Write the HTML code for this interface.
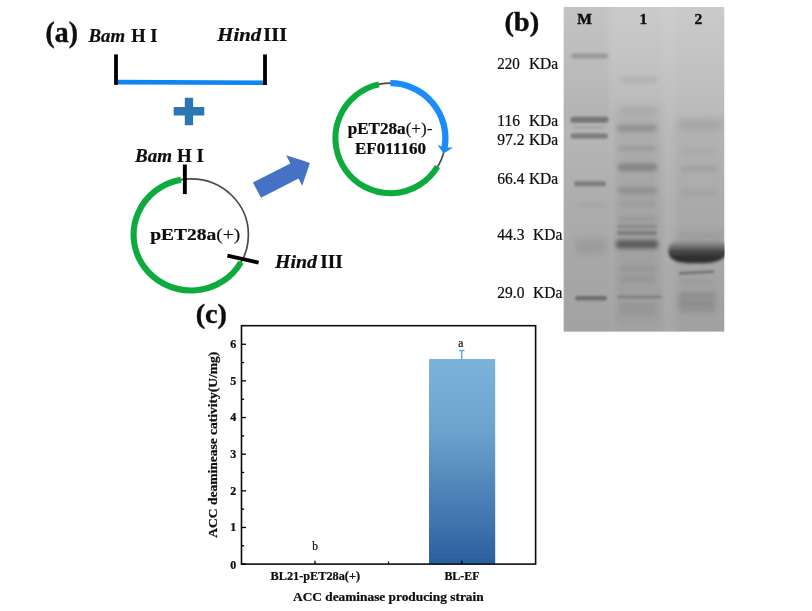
<!DOCTYPE html>
<html><head><meta charset="utf-8">
<style>
html,body{margin:0;padding:0;background:#fff;}
body{width:812px;height:611px;overflow:hidden;font-family:"Liberation Serif",serif;}
svg{position:absolute;left:0;top:0;display:block}
text{font-family:"Liberation Serif",serif;fill:#0c0c0c;stroke:#0c0c0c;stroke-width:.22px}
.b{font-weight:bold}
.bi{font-weight:bold;font-style:italic}
.big{stroke:#0c0c0c;stroke-width:0.4px}
</style></head><body>
<svg width="812" height="611" viewBox="0 0 812 611">
<defs>
<linearGradient id="barg" x1="0" y1="0" x2="0" y2="1">
<stop offset="0" stop-color="#7bb3da"/><stop offset="0.35" stop-color="#6ba3cd"/><stop offset="1" stop-color="#2a5f9f"/>
</linearGradient>
<linearGradient id="gelbg" x1="0" y1="0" x2="0" y2="1">

<stop offset="0" stop-color="#cacaca"/>
<stop offset="0.15" stop-color="#c4c4c4"/>
<stop offset="0.35" stop-color="#b8b8b8"/>
<stop offset="0.6" stop-color="#adadad"/>
<stop offset="1" stop-color="#a2a2a2"/>
</linearGradient>
<filter id="soft" x="-5%" y="-5%" width="110%" height="110%"><feGaussianBlur stdDeviation="0.6"/></filter>

<filter id="bl1" x="-30%" y="-200%" width="160%" height="500%"><feGaussianBlur stdDeviation="1.3"/></filter>
<filter id="bl15" x="-30%" y="-200%" width="160%" height="500%"><feGaussianBlur stdDeviation="1.6"/></filter>
<filter id="bl2" x="-30%" y="-200%" width="160%" height="500%"><feGaussianBlur stdDeviation="1.9"/></filter>
<filter id="bl3" x="-30%" y="-200%" width="160%" height="500%"><feGaussianBlur stdDeviation="3.2"/></filter>
<filter id="bl4" x="-30%" y="-200%" width="160%" height="500%"><feGaussianBlur stdDeviation="5"/></filter>
<clipPath id="gelclip"><rect x="563.4" y="6.8" width="161.1" height="325"/></clipPath>
</defs>
<g filter="url(#soft)">
<g id="pa">
<text class="b big" x="45.6" y="41.5" font-size="29.3" textLength="32.4" lengthAdjust="spacingAndGlyphs">(a)</text>
<text class="bi" x="88.5" y="41.7" font-size="18.5" textLength="36.5" lengthAdjust="spacingAndGlyphs">Bam</text>
<text class="b" x="131.3" y="41.6" font-size="19" textLength="26.3" lengthAdjust="spacingAndGlyphs">H I</text>
<text class="bi" x="217.3" y="41.3" font-size="19" textLength="43.8" lengthAdjust="spacingAndGlyphs">Hind</text>
<text class="b" x="263.3" y="41.3" font-size="18.5" textLength="24" lengthAdjust="spacingAndGlyphs">III</text>
<line x1="116" y1="82.1" x2="265" y2="82.8" stroke="#0d86f2" stroke-width="4.6"/>
<rect x="114.1" y="54.4" width="3.8" height="30.4" fill="#000"/>
<rect x="263.1" y="54.4" width="3.8" height="30.6" fill="#000"/>
<path d="M184.8 97.7H193.1V107.1H204.3V115.5H193.1V125.3H184.8V115.5H173.7V107.1H184.8Z" fill="#2e75b6"/>
<text class="bi" x="135" y="161.6" font-size="18.5" textLength="37" lengthAdjust="spacingAndGlyphs">Bam</text>
<text class="b" x="177" y="161.6" font-size="19" textLength="27" lengthAdjust="spacingAndGlyphs">H I</text>
<ellipse cx="191" cy="234.7" rx="57.4" ry="55.8" fill="none" stroke="#4a4a4a" stroke-width="1.7"/>
<path d="M240.96 262.18A57.4 55.8 0 1 1 181.03 179.75" fill="none" stroke="#0aab3c" stroke-width="6.1"/>
<rect x="182.9" y="164.5" width="3.9" height="29.6" fill="#000"/>
<line x1="227.4" y1="255.6" x2="258.6" y2="262.6" stroke="#000" stroke-width="3.8"/>
<text class="b" x="150.2" y="240.2" font-size="17.5" textLength="90" lengthAdjust="spacingAndGlyphs">pET28a<tspan font-weight="normal" stroke="#111" stroke-width="0.15">(+)</tspan></text>
<text class="bi" x="275" y="267.7" font-size="19" textLength="42" lengthAdjust="spacingAndGlyphs">Hind</text>
<text class="b" x="320.2" y="267.7" font-size="18.5" textLength="22.6" lengthAdjust="spacingAndGlyphs">III</text>
<polygon points="252.9,182.6 290.4,163.5 286.1,155.2 309.9,162.9 302.2,185.8 298.6,178.6 261,197.8" fill="#4472c4"/>
<circle cx="390.4" cy="138.2" r="55" fill="none" stroke="#4a4a4a" stroke-width="1.7"/>
<path d="M437.54 166.53A55 55 0 1 1 378.96 84.40" fill="none" stroke="#0aab3c" stroke-width="6"/>
<path d="M390.40 83.20A55 55 0 0 1 444.65 147.28" fill="none" stroke="#1a8cfa" stroke-width="6.3"/>
<polygon points="437.4,144.7 441.5,146.6 449,147.6 453.2,147.6 443.6,153.6" fill="#1a8cfa"/>
<text class="b" x="347.7" y="133.6" font-size="16.5" textLength="84.7" lengthAdjust="spacingAndGlyphs">pET28a<tspan font-weight="normal" stroke="#111" stroke-width="0.15">(+)-</tspan></text>
<text class="b" x="355" y="153.8" font-size="16.5" textLength="71" lengthAdjust="spacingAndGlyphs">EF011160</text>
</g>
<g id="pb">
<text class="b big" x="504.4" y="31.2" font-size="27.3" textLength="34.8" lengthAdjust="spacingAndGlyphs">(b)</text>
<g font-size="17">
<text x="497.3" y="68.9" textLength="22.6" lengthAdjust="spacingAndGlyphs">220</text><text x="528.9" y="68.9" textLength="29.3" lengthAdjust="spacingAndGlyphs">KDa</text>
<text x="497.3" y="125.7" textLength="22.6" lengthAdjust="spacingAndGlyphs">116</text><text x="528.9" y="125.7" textLength="29.3" lengthAdjust="spacingAndGlyphs">KDa</text>
<text x="497.3" y="145.2" textLength="27.2" lengthAdjust="spacingAndGlyphs">97.2</text><text x="528.9" y="145.2" textLength="29.3" lengthAdjust="spacingAndGlyphs">KDa</text>
<text x="497.3" y="183.5" textLength="27.2" lengthAdjust="spacingAndGlyphs">66.4</text><text x="528.9" y="183.5" textLength="29.3" lengthAdjust="spacingAndGlyphs">KDa</text>
<text x="497.3" y="239.8" textLength="27.2" lengthAdjust="spacingAndGlyphs">44.3</text><text x="533" y="239.8" textLength="29.3" lengthAdjust="spacingAndGlyphs">KDa</text>
<text x="497.3" y="297.5" textLength="27.2" lengthAdjust="spacingAndGlyphs">29.0</text><text x="533" y="297.5" textLength="29.3" lengthAdjust="spacingAndGlyphs">KDa</text>
</g>
<g clip-path="url(#gelclip)">
<rect x="563.4" y="6.8" width="161.1" height="325" fill="url(#gelbg)"/>
<rect x="560.0" y="-5.0" width="50.0" height="130.0" rx="3.0" fill="#000000" opacity="0.03" filter="url(#bl4)"/>
<rect x="616.0" y="107.5" width="43.0" height="215.0" rx="3.0" fill="#808080" opacity="0.17" filter="url(#bl4)"/>
<rect x="677.0" y="125.0" width="45.0" height="200.0" rx="3.0" fill="#909090" opacity="0.1" filter="url(#bl4)"/>
<rect x="662.0" y="0.0" width="14.0" height="340.0" rx="3.0" fill="#ffffff" opacity="0.06" filter="url(#bl3)"/>
<rect x="609.0" y="0.0" width="6.0" height="340.0" rx="3.0" fill="#ffffff" opacity="0.05" filter="url(#bl2)"/>
<rect x="571.0" y="53.5" width="37.0" height="5.0" rx="2.5" fill="#808080" opacity="0.62" filter="url(#bl15)"/>
<rect x="570.5" y="116.8" width="38.0" height="6.0" rx="3.0" fill="#646464" opacity="0.75" filter="url(#bl1)"/>
<rect x="570.5" y="133.2" width="37.5" height="5.5" rx="2.8" fill="#686868" opacity="0.7" filter="url(#bl1)"/>
<rect x="573.0" y="126.0" width="33.0" height="3.0" rx="1.5" fill="#888" opacity="0.25" filter="url(#bl1)"/>
<rect x="574.0" y="181.3" width="32.0" height="5.0" rx="2.5" fill="#686868" opacity="0.7" filter="url(#bl1)"/>
<rect x="576.0" y="203.0" width="30.0" height="4.0" rx="2.0" fill="#909090" opacity="0.25" filter="url(#bl2)"/>
<rect x="575.0" y="238.5" width="31.0" height="15.0" rx="3.0" fill="#858585" opacity="0.36" filter="url(#bl3)"/>
<rect x="575.0" y="295.9" width="32.0" height="4.5" rx="2.2" fill="#5c5c5c" opacity="0.75" filter="url(#bl1)"/>
<rect x="621.0" y="77.0" width="36.0" height="6.0" rx="3.0" fill="#909090" opacity="0.3" filter="url(#bl2)"/>
<rect x="621.0" y="107.0" width="36.0" height="6.0" rx="3.0" fill="#909090" opacity="0.22" filter="url(#bl2)"/>
<rect x="617.0" y="124.8" width="40.0" height="7.0" rx="3.0" fill="#767676" opacity="0.5" filter="url(#bl2)"/>
<rect x="618.0" y="146.2" width="38.0" height="4.5" rx="2.2" fill="#808080" opacity="0.42" filter="url(#bl2)"/>
<rect x="618.0" y="163.4" width="39.0" height="7.5" rx="3.0" fill="#6c6c6c" opacity="0.6" filter="url(#bl2)"/>
<rect x="618.0" y="187.5" width="39.0" height="6.0" rx="3.0" fill="#747474" opacity="0.5" filter="url(#bl2)"/>
<rect x="619.0" y="201.5" width="37.0" height="4.0" rx="2.0" fill="#848484" opacity="0.3" filter="url(#bl2)"/>
<rect x="618.0" y="217.0" width="39.0" height="4.0" rx="2.0" fill="#808080" opacity="0.35" filter="url(#bl2)"/>
<rect x="617.0" y="224.5" width="40.0" height="4.0" rx="2.0" fill="#707070" opacity="0.45" filter="url(#bl1)"/>
<rect x="617.0" y="230.7" width="40.0" height="4.5" rx="2.2" fill="#606060" opacity="0.55" filter="url(#bl1)"/>
<rect x="616.0" y="239.9" width="42.0" height="8.5" rx="3.0" fill="#484848" opacity="0.78" filter="url(#bl2)"/>
<rect x="619.0" y="266.1" width="37.0" height="5.0" rx="2.5" fill="#808080" opacity="0.32" filter="url(#bl2)"/>
<rect x="619.0" y="276.5" width="37.0" height="5.0" rx="2.5" fill="#808080" opacity="0.32" filter="url(#bl2)"/>
<rect x="617.0" y="295.4" width="45.0" height="3.2" rx="1.6" fill="#6c6c6c" opacity="0.55" filter="url(#bl1)"/>
<rect x="619.0" y="303.8" width="37.0" height="4.5" rx="2.2" fill="#808080" opacity="0.32" filter="url(#bl2)"/>
<rect x="619.0" y="310.0" width="37.0" height="4.0" rx="2.0" fill="#808080" opacity="0.28" filter="url(#bl2)"/>
<rect x="678.0" y="119.5" width="45.0" height="10.0" rx="3.0" fill="#888" opacity="0.32" filter="url(#bl3)"/>
<rect x="680.0" y="149.0" width="36.0" height="4.0" rx="2.0" fill="#888" opacity="0.18" filter="url(#bl2)"/>
<rect x="680.0" y="166.5" width="38.0" height="5.0" rx="2.5" fill="#808080" opacity="0.3" filter="url(#bl2)"/>
<rect x="680.0" y="190.0" width="36.0" height="5.0" rx="2.5" fill="#888" opacity="0.24" filter="url(#bl2)"/>
<rect x="676.0" y="231.0" width="48.0" height="10.0" rx="3.0" fill="#808080" opacity="0.22" filter="url(#bl3)"/>
<linearGradient id="bigb" x1="0" y1="0" x2="0" y2="1"><stop offset="0" stop-color="#747474" stop-opacity="0.15"/><stop offset="0.2" stop-color="#606060" stop-opacity="0.6"/><stop offset="0.45" stop-color="#434343" stop-opacity="0.92"/><stop offset="0.72" stop-color="#303030"/><stop offset="1" stop-color="#2c2c2c"/></linearGradient>
<path d="M668.4 251.5 Q668.4 240.5 678 240.5 L720 240.5 Q728 240.5 728 250 Q726 262.8 702 263.3 L690 263.3 Q668.4 262.8 668.4 251.5Z" fill="url(#bigb)" filter="url(#bl15)"/>
<line x1="679" y1="273.3" x2="714" y2="271.7" stroke="#5e5e5e" stroke-width="2.8" opacity="0.7" filter="url(#bl1)"/>
<rect x="680.0" y="280.0" width="34.0" height="4.0" rx="2.0" fill="#808080" opacity="0.32" filter="url(#bl2)"/>
<rect x="678.0" y="292.5" width="38.0" height="19.0" rx="3.0" fill="#808080" opacity="0.3" filter="url(#bl3)"/>
<rect x="679.0" y="292.4" width="36.0" height="4.5" rx="2.2" fill="#747474" opacity="0.4" filter="url(#bl2)"/>
<rect x="679.0" y="300.4" width="36.0" height="4.5" rx="2.2" fill="#747474" opacity="0.4" filter="url(#bl2)"/>
<rect x="680.0" y="307.6" width="34.0" height="4.0" rx="2.0" fill="#787878" opacity="0.35" filter="url(#bl2)"/>
</g>
<text class="b big" x="577.3" y="24.4" font-size="15.5">M</text>
<text class="b big" x="639.6" y="24.4" font-size="15.5">1</text>
<text class="b big" x="694.6" y="24.4" font-size="15.5">2</text>
</g>
<g id="pc">
<text class="b big" x="195.7" y="322.8" font-size="26.3" textLength="31.3" lengthAdjust="spacingAndGlyphs">(c)</text>
<rect x="429" y="359" width="66.2" height="205.1" fill="url(#barg)"/>
<rect x="241.5" y="325.7" width="294.1" height="238.4" fill="none" stroke="#111" stroke-width="1.6"/>
<g stroke="#000" stroke-width="1.3">
<line x1="241.5" y1="564.10" x2="246.0" y2="564.10"/>
<line x1="241.5" y1="545.78" x2="244.1" y2="545.78"/>
<line x1="241.5" y1="527.46" x2="246.0" y2="527.46"/>
<line x1="241.5" y1="509.14" x2="244.1" y2="509.14"/>
<line x1="241.5" y1="490.82" x2="246.0" y2="490.82"/>
<line x1="241.5" y1="472.50" x2="244.1" y2="472.50"/>
<line x1="241.5" y1="454.18" x2="246.0" y2="454.18"/>
<line x1="241.5" y1="435.86" x2="244.1" y2="435.86"/>
<line x1="241.5" y1="417.54" x2="246.0" y2="417.54"/>
<line x1="241.5" y1="399.22" x2="244.1" y2="399.22"/>
<line x1="241.5" y1="380.90" x2="246.0" y2="380.90"/>
<line x1="241.5" y1="362.58" x2="244.1" y2="362.58"/>
<line x1="241.5" y1="344.26" x2="246.0" y2="344.26"/>
<line x1="315" y1="564.1" x2="315" y2="560.8"/><line x1="461.8" y1="564.1" x2="461.8" y2="560.8"/><line x1="388.5" y1="564.1" x2="388.5" y2="561.6"/>
</g>
<g class="b" font-size="12" text-anchor="end">
<text x="236.3" y="569.30">0</text>
<text x="236.3" y="531.26">1</text>
<text x="236.3" y="494.62">2</text>
<text x="236.3" y="457.98">3</text>
<text x="236.3" y="421.34">4</text>
<text x="236.3" y="384.70">5</text>
<text x="236.3" y="348.06">6</text>
</g>
<line x1="461.7" y1="350.3" x2="461.7" y2="359" stroke="#62a6de" stroke-width="1.5"/>
<line x1="459" y1="350.5" x2="464.5" y2="350.5" stroke="#62a6de" stroke-width="1.5"/>
<text x="458.2" y="347" font-size="11.5">a</text>
<text x="312.3" y="549.6" font-size="11.5">b</text>
<text class="b" x="270.6" y="579.7" font-size="12" textLength="89.4" lengthAdjust="spacingAndGlyphs">BL21-pET28a(+)</text>
<text class="b" x="444.4" y="579.7" font-size="12" textLength="35" lengthAdjust="spacingAndGlyphs">BL-EF</text>
<text class="b" x="293" y="601" font-size="13.3" textLength="190.6" lengthAdjust="spacingAndGlyphs">ACC deaminase producing strain</text>
<text class="b" transform="translate(217,537.7) rotate(-90)" font-size="12.7" textLength="186" lengthAdjust="spacingAndGlyphs">ACC deaminease cativity(U/mg)</text>
</g>
</g>
</svg></body></html>
